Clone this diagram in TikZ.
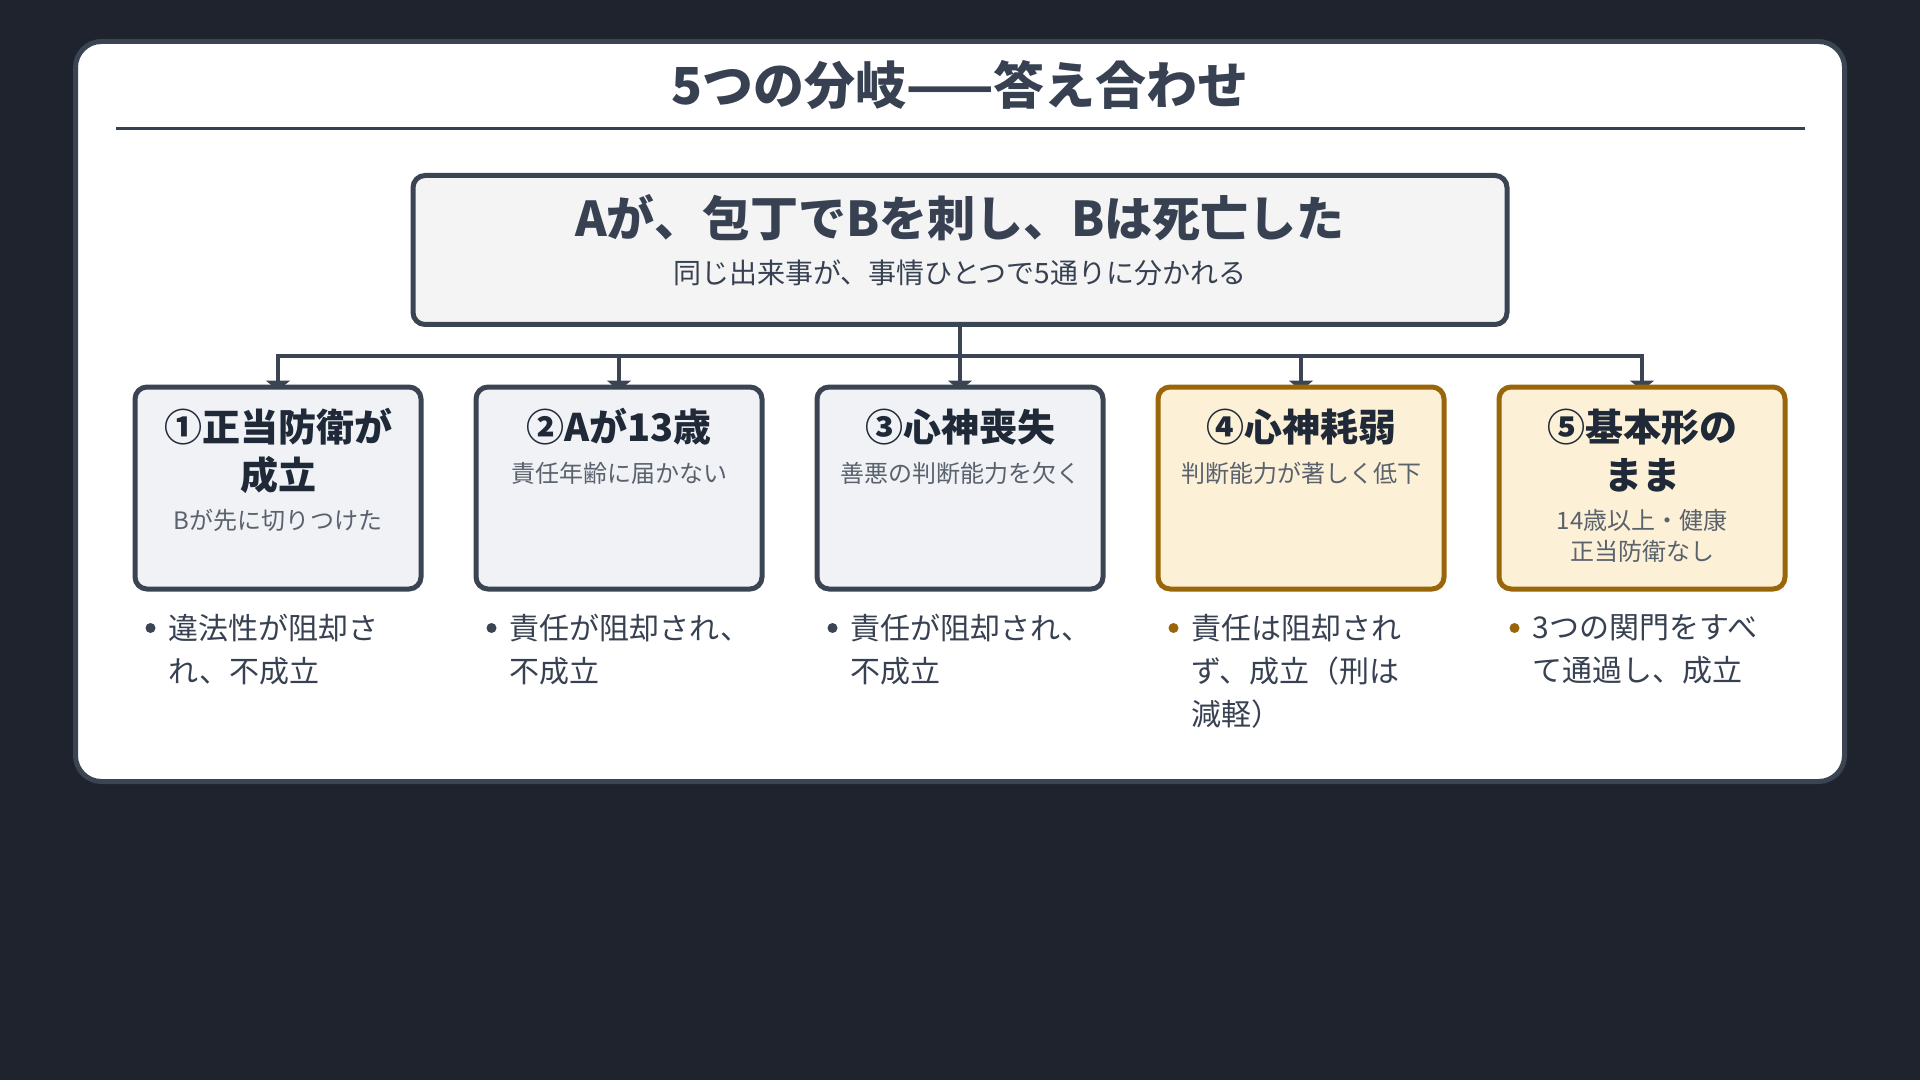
\documentclass[tikz,border=0pt]{standalone}
\usepackage{fontspec}
\setmainfont{Noto Sans CJK JP}
\usetikzlibrary{arrows.meta,backgrounds,positioning}

\definecolor{night}{HTML}{1E232D}
\definecolor{slate}{HTML}{3B4452}
\definecolor{ink}{HTML}{374151}
\definecolor{deepink}{HTML}{1F2937}
\definecolor{mute}{HTML}{5A626E}
\definecolor{mist}{HTML}{F4F4F5}
\definecolor{paleblue}{HTML}{F0F2F6}
\definecolor{cream}{HTML}{FCF0D6}
\definecolor{ochre}{HTML}{9A660A}

\tikzset{
	card/.style={draw=slate,fill=white,line width=2.5pt,rounded corners=13pt},
	mainbox/.style={draw=slate,fill=mist,line width=2.5pt,rounded corners=6pt,minimum width=547pt,minimum height=74.5pt},
	branch/.style={draw=slate,fill=paleblue,line width=2.5pt,rounded corners=6pt,minimum width=143pt,minimum height=101pt},
	mitigated/.style={branch,draw=ochre,fill=cream},
	heading/.style={text=deepink,font=\bfseries\fontsize{19}{24}\selectfont,align=center,inner sep=0pt},
	detail/.style={text=mute,font=\fontsize{12}{15.5}\selectfont,align=center,inner sep=0pt},
	verdict/.style={text=ink,font=\fontsize{15}{21.5}\selectfont,align=left,inner sep=0pt,anchor=north west},
	pip/.style={circle,inner sep=0pt,minimum size=5pt},
	link/.style={draw=slate,line width=2pt,-{Triangle[width=12pt,length=5pt]}}
}

\begin{document}
\begin{tikzpicture}[x=0.5pt,y=-0.5pt]
	\useasboundingbox (0,0) rectangle (1920,1080);

	% heading
	\node[text=ink,font=\bfseries\fontsize{25.5}{30}\selectfont] (title) at (960,85) {5つの分岐——答え合わせ};
	\coordinate (ruleL) at (116,128.6);
	\coordinate (ruleR) at (1805,128.6);

	% the case
	\node[mainbox] (main) at (960,250) {};
	\node[text=ink,font=\bfseries\fontsize{24}{28}\selectfont] (case) at (960,218) {Aが、包丁でBを刺し、Bは死亡した};
	\node[text=ink,font=\fontsize{14}{17}\selectfont] (casenote) at (960,273) {同じ出来事が、事情ひとつで5通りに分かれる};
	\coordinate (bus) at (960,356);

	% five branches
	\node[branch] (b1) at (278,488) {};
	\node[branch] (b2) at (619,488) {};
	\node[branch] (b3) at (960,488) {};
	\node[mitigated] (b4) at (1301,488) {};
	\node[mitigated] (b5) at (1642,488) {};

	\node[heading] (h1) at (278,451) {①正当防衛が\\成立};
	\node[heading] (h2) at (619,427) {②Aが13歳};
	\node[heading] (h3) at (960,427) {③心神喪失};
	\node[heading] (h4) at (1301,427) {④心神耗弱};
	\node[heading] (h5) at (1642,451) {⑤基本形の\\まま};

	\node[detail] (n1) at (278,520) {Bが先に切りつけた};
	\node[detail] (n2) at (619,473) {責任年齢に届かない};
	\node[detail] (n3) at (960,473) {善悪の判断能力を欠く};
	\node[detail] (n4) at (1301,473) {判断能力が著しく低下};
	\node[detail] (n5) at (1642,535.5) {14歳以上・健康\\正当防衛なし};

	% outcomes
	\node[pip,fill=slate] (d1) at (150.5,628) {};
	\node[pip,fill=slate] (d2) at (491.5,628) {};
	\node[pip,fill=slate] (d3) at (832.5,628) {};
	\node[pip,fill=ochre] (d4) at (1173.5,628) {};
	\node[pip,fill=ochre] (d5) at (1514.5,628) {};

	\node[verdict] (v1) at (168.5,614) {違法性が阻却さ\\れ、不成立};
	\node[verdict] (v2) at (509.5,614) {責任が阻却され、\\不成立};
	\node[verdict] (v3) at (850.5,614) {責任が阻却され、\\不成立};
	\node[verdict] (v4) at (1191.5,614) {責任は阻却され\\ず、成立（刑は\\減軽）};
	\node[verdict] (v5) at (1532.5,614) {3つの関門をすべ\\て通過し、成立};

	\begin{scope}[on background layer]
		\fill[night] (0,0) rectangle (1920,1080);
		\draw[card] (75.5,41.5) rectangle (1844.5,781.5);
		\draw[ink,line width=1.2pt] (ruleL) -- (ruleR);
		\foreach \to in {b1,b2,b3,b4,b5}
			\draw[link] (main.south) -- (main.south |- bus) -| ([yshift=-3pt]\to.north);
	\end{scope}
\end{tikzpicture}
\end{document}
